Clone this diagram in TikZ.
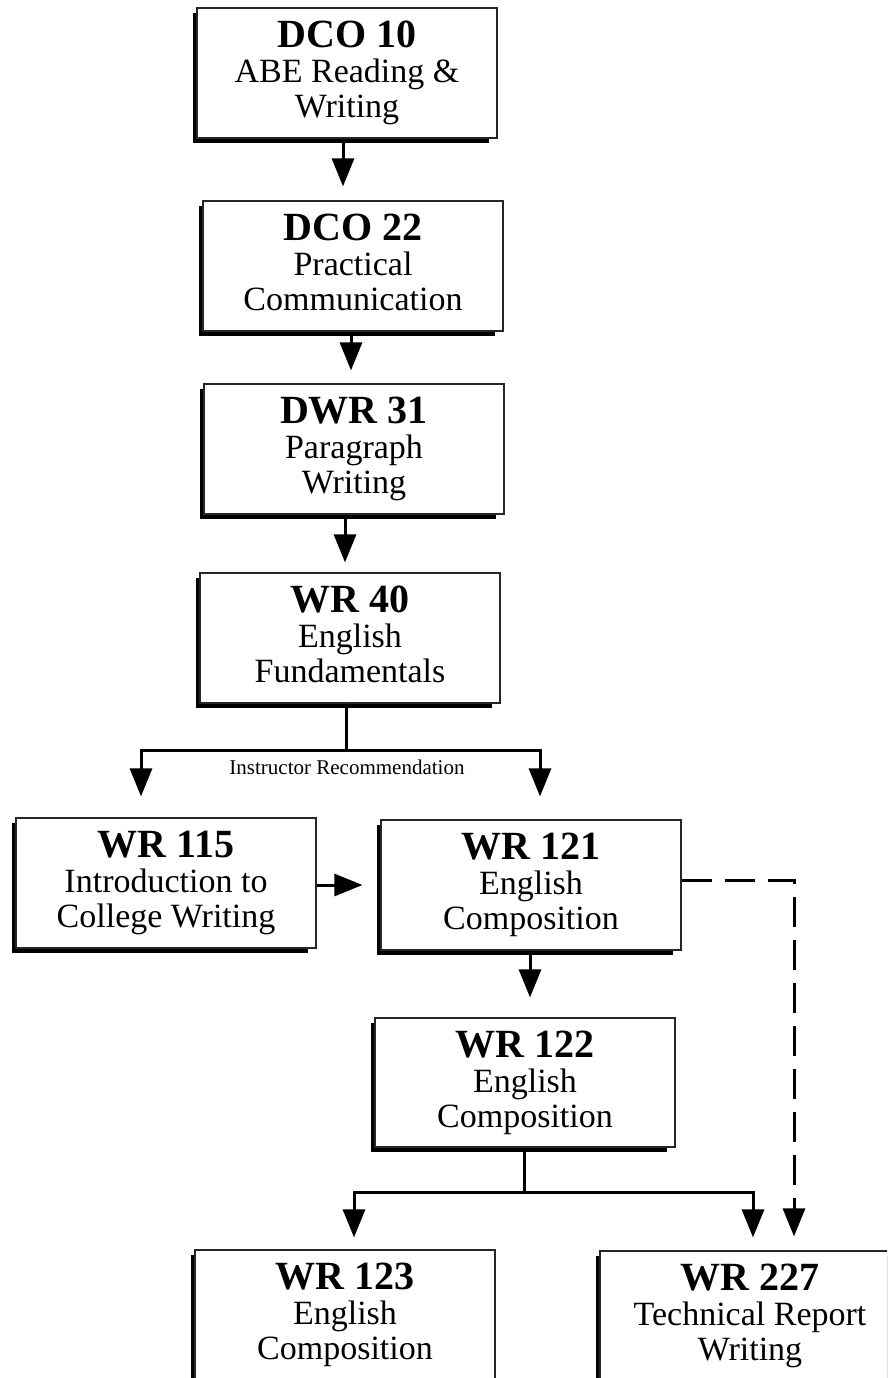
\documentclass[tikz,border=0pt]{standalone}
\usepackage{fontspec}
\setmainfont{Liberation Serif}
\usetikzlibrary{arrows.meta,calc}
\tikzset{
  box/.style={draw=black!85, line width=1.2pt, fill=white, inner sep=0pt, rectangle},
  ttl/.style={anchor=base, font=\fontsize{40}{42}\selectfont\bfseries, inner sep=0pt},
  sub/.style={anchor=base, font=\fontsize{34}{36}\selectfont, inner sep=0pt},
  conn/.style={line width=3pt, -{Triangle[width=22pt,length=28pt]}},
  dashedconn/.style={conn, dash pattern=on 30pt off 13pt},
  shadowfill/.style={fill=black},
  note/.style={font=\fontsize{21}{23}\selectfont, inner sep=0pt},
}
\newcommand\coursebox[8]{%
  \fill[shadowfill] ({#2-4.5},{#3+5}) rectangle ({#4-8},{#5+4.5});
  \node[box, minimum width={(#4-#2)*1pt}, minimum height={(#5-#3)*1pt}] (#1) at ({(#2+#4)/2},{(#3+#5)/2}) {};
  \node[ttl] (#1-t) at ($(#1.north)+(0,40)$) {#6};
  \node[sub] (#1-a) at ($(#1.north)+(0,75)$) {#7};
  \node[sub] (#1-b) at ($(#1.north)+(0,110)$) {#8};
}
\begin{document}
\begin{tikzpicture}[x=1pt,y=-1pt]
\path[use as bounding box, fill=white] (0,0) rectangle (887,1378);
\clip (0,0) rectangle (887,1378);

\coursebox{dco10}{197}{8}{497}{138}{DCO 10}{ABE Reading \&}{Writing}
\coursebox{dco22}{203}{201}{503}{331}{DCO 22}{Practical}{Communication}
\coursebox{dwr31}{204}{384}{504}{514}{DWR 31}{Paragraph}{Writing}
\coursebox{wr40}{200}{573}{500}{703}{WR 40}{English}{Fundamentals}
\coursebox{wr115}{16}{818}{316}{948}{WR 115}{Introduction to}{College Writing}
\coursebox{wr121}{381}{820}{681}{950}{WR 121}{English}{Composition}
\coursebox{wr122}{375}{1018}{675}{1147}{WR 122}{English}{Composition}
\coursebox{wr123}{195}{1250}{495}{1420}{WR 123}{English}{Composition}
\coursebox{wr227}{600}{1251}{900}{1420}{WR 227}{Technical Report}{Writing}

% vertical chain
\draw[conn, shorten >=14pt] ([xshift=-4pt]dco10.south) -- ([xshift=-4pt]dco10.south |- dco22.north);
\draw[conn, shorten >=13pt] ([xshift=-2pt]dco22.south) -- ([xshift=-2pt]dco22.south |- dwr31.north);
\draw[conn, shorten >=10pt] ([xshift=-9pt]dwr31.south) -- ([xshift=-9pt]dwr31.south |- wr40.north);

% branch from WR 40
\draw[conn, shorten >=21pt] ([xshift=-4pt]wr40.south) -- ++(0,47) -| ([xshift=-25pt]wr115.north);
\draw[conn, shorten >=23pt] ([xshift=-4pt]wr40.south) -- ++(0,47) -| ([xshift=9pt]wr121.north);
\node[note] (rec) at (347,767) {Instructor Recommendation};

% WR 115 -> WR 121
\draw[conn, shorten >=18pt] ([yshift=-2pt]wr115.east) -- ([yshift=-2pt]wr115.east -| wr121.west);

% WR 121 -> WR 122
\draw[conn, shorten >=20pt] ([xshift=-1pt]wr121.south) -- ([xshift=-1pt]wr121.south |- wr122.north);

% dashed WR 121 -> WR 227
\draw[dashedconn, shorten >=14pt] ([yshift=5pt]wr121.east) -| ([xshift=44pt]wr227.north);

% branch from WR 122
\draw[conn, shorten >=12pt] ([xshift=-1pt]wr122.south) -- ++(0,45) -| ([xshift=9pt]wr123.north);
\draw[conn, shorten >=13pt] ([xshift=-1pt]wr122.south) -- ++(0,45) -| ([xshift=3pt]wr227.north);
\end{tikzpicture}
\end{document}
